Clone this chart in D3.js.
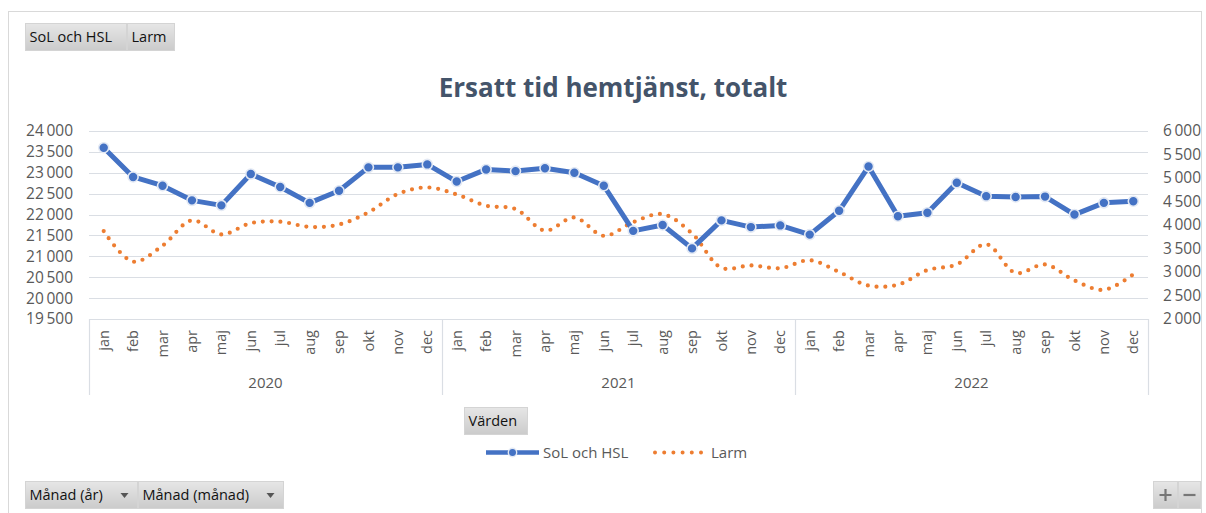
<!DOCTYPE html>
<html>
<head>
<meta charset="utf-8">
<script src="https://cdn.jsdelivr.net/npm/d3@7"></script>
<style>
  body { margin: 0; background: #fff; }
  svg text { font-family: "Open Sans", "Noto Sans", sans-serif; }
</style>
</head>
<body>
<svg id="chart" width="1206" height="513"></svg>
<script>
// ---- data ----
const years = ["2020", "2021", "2022"];
const months = ["jan", "feb", "mar", "apr", "maj", "jun", "jul", "aug", "sep", "okt", "nov", "dec"];

// SoL och HSL (left axis), jan 2020 .. dec 2022
const solHsl = [
  23600, 22900, 22690, 22340, 22220, 22970, 22660, 22280, 22570, 23130, 23130, 23200,
  22790, 23080, 23040, 23110, 23000, 22690, 21610, 21750, 21190, 21860, 21700, 21740,
  21520, 22090, 23150, 21960, 22045, 22760, 22440, 22420, 22430, 22000, 22280, 22320
];
// Larm (right axis), jan 2020 .. dec 2022
const larm = [
  3870, 3220, 3560, 4100, 3800, 4040, 4070, 3960, 4010, 4270, 4660, 4800,
  4650, 4410, 4340, 3880, 4160, 3770, 4060, 4230, 3820, 3090, 3140, 3080,
  3250, 3000, 2710, 2730, 3040, 3160, 3590, 2980, 3160, 2820, 2620, 2950
];

const leftTicks = [19500, 20000, 20500, 21000, 21500, 22000, 22500, 23000, 23500, 24000];
const rightTicks = [2000, 2500, 3000, 3500, 4000, 4500, 5000, 5500, 6000];

const seriesNames = ["SoL och HSL", "Larm"];
const title = "Ersatt tid hemtjänst, totalt";

// ---- layout ----
const svg = d3.select("#chart");
const plot = { left: 89, right: 1148, top: 131, bottom: 319 };
const blue = "#4472C4", orange = "#ED7D31";
const grid = "#dadee4", axisText = "#595959";

const keys = [];
years.forEach(y => months.forEach(m => keys.push(y + "-" + m)));
const points = keys.map((k, i) => ({ key: k, month: k.split("-")[1], sol: solHsl[i], larm: larm[i] }));

const x = d3.scaleBand().domain(keys).range([plot.left, plot.right]);
const yL = d3.scaleLinear().domain([19500, 24000]).range([plot.bottom, plot.top]);
const yR = d3.scaleLinear().domain([2000, 6000]).range([plot.bottom, plot.top]);

const sv = d3.formatLocale({ decimal: ",", thousands: "\u2009", grouping: [3], currency: ["", " kr"] });
const fmt = sv.format(",d");

// gradient used by the pivot field buttons
const defs = svg.append("defs");
const g1 = defs.append("linearGradient").attr("id", "btn").attr("x1", 0).attr("y1", 0).attr("x2", 0).attr("y2", 1);
g1.append("stop").attr("offset", "0%").attr("stop-color", "#e6e6e6");
g1.append("stop").attr("offset", "100%").attr("stop-color", "#cbcbcb");

// chart area frame
svg.append("rect").attr("x", 8.5).attr("y", 11.5).attr("width", 1193).attr("height", 520)
  .attr("fill", "#fff").attr("stroke", "#d9d9d9");

// field buttons
function button(x0, y0, w, h, label, arrow) {
  const g = svg.append("g").attr("transform", `translate(${x0},${y0})`);
  g.append("rect").attr("width", w).attr("height", h).attr("fill", "url(#btn)")
    .attr("stroke", "#d4d4d4").attr("stroke-width", 1);
  g.append("text").attr("x", 4).attr("y", h / 2).attr("dy", "0.35em")
    .attr("font-size", 14.5).attr("fill", "#111").text(label);
  if (arrow) {
    g.append("path").attr("d", `M${w - 17},${h / 2 - 2} l8,0 l-4,5 z`).attr("fill", "#555");
  }
  return g;
}
button(25.5, 23.5, 101, 27, seriesNames[0]);
button(127.5, 23.5, 47, 27, seriesNames[1]);
button(464.5, 407.5, 63, 27, "Värden");
button(25.5, 481.5, 112, 27, "Månad (år)", true);
button(138.5, 481.5, 145, 27, "Månad (månad)", true);
// zoom buttons
const zp = button(1153.5, 481.5, 24, 27, "");
zp.append("path").attr("d", "M6,13.5 h12 M12,7.5 v12").attr("stroke", "#777").attr("stroke-width", 2.2);
const zm = button(1178.5, 481.5, 22, 27, "");
zm.append("path").attr("d", "M5,13.5 h12").attr("stroke", "#777").attr("stroke-width", 2.2);

// title
svg.append("text").attr("x", 613).attr("y", 97).attr("text-anchor", "middle")
  .attr("font-size", 26).attr("font-weight", "bold").attr("fill", "#44546A").text(title);

// horizontal gridlines
svg.append("g").selectAll("line").data(leftTicks).join("line")
  .attr("x1", plot.left).attr("x2", plot.right)
  .attr("y1", d => Math.round(yL(d)) + 0.5).attr("y2", d => Math.round(yL(d)) + 0.5)
  .attr("stroke", grid).attr("stroke-width", 1.2);

// value axes
const axL = svg.append("g").attr("transform", `translate(${plot.left},0)`)
  .call(d3.axisLeft(yL).tickValues(leftTicks).tickFormat(fmt).tickSize(0).tickPadding(16));
const axR = svg.append("g").attr("transform", `translate(${plot.right},0)`)
  .call(d3.axisRight(yR).tickValues(rightTicks).tickFormat(fmt).tickSize(0).tickPadding(15));
[axL, axR].forEach(a => {
  a.select(".domain").remove();
  a.selectAll("text").attr("font-size", 15.5).attr("fill", axisText)
    .attr("font-family", '"Open Sans", sans-serif');
});

// category axis: year separators
const bounds = years.map((y, i) => x(y + "-jan")).concat([plot.right]);
svg.append("g").selectAll("line").data(bounds).join("line")
  .attr("x1", d => Math.round(d) + 0.5).attr("x2", d => Math.round(d) + 0.5)
  .attr("y1", plot.bottom).attr("y2", 395)
  .attr("stroke", grid).attr("stroke-width", 1.2);

// month labels (rotated)
svg.append("g").selectAll("text").data(points).join("text")
  .attr("transform", d => `translate(${x(d.key) + x.bandwidth() / 2},330) rotate(-90)`)
  .attr("text-anchor", "end").attr("dy", "0.35em")
  .attr("font-size", 14.5).attr("fill", axisText).text(d => d.month);

// year labels
svg.append("g").selectAll("text").data(years).join("text")
  .attr("x", (y, i) => (bounds[i] + bounds[i + 1]) / 2).attr("y", 383).attr("dy", "0.35em")
  .attr("text-anchor", "middle").attr("font-size", 15).attr("fill", axisText).text(d => d);

const cx = d => x(d.key) + x.bandwidth() / 2;

// Larm: smoothed dotted line
svg.append("path").datum(points)
  .attr("d", d3.line().x(cx).y(d => yR(d.larm)).curve(d3.curveCatmullRom.alpha(0.5)))
  .attr("fill", "none").attr("stroke", orange).attr("stroke-width", 4.2)
  .attr("stroke-linecap", "round").attr("stroke-dasharray", "0 8.8");

// SoL och HSL: solid line with markers
svg.append("path").datum(points)
  .attr("d", d3.line().x(cx).y(d => yL(d.sol)))
  .attr("fill", "none").attr("stroke", blue).attr("stroke-width", 5)
  .attr("stroke-linejoin", "round");
svg.append("g").selectAll("circle").data(points).join("circle")
  .attr("cx", cx).attr("cy", d => yL(d.sol)).attr("r", 5)
  .attr("fill", blue).attr("stroke", "#e3e9f4").attr("stroke-width", 1.6);

// legend
const lg = svg.append("g");
lg.append("line").attr("x1", 486).attr("x2", 539).attr("y1", 452.5).attr("y2", 452.5)
  .attr("stroke", blue).attr("stroke-width", 4.5);
lg.append("circle").attr("cx", 512.5).attr("cy", 452.5).attr("r", 4.2)
  .attr("fill", blue).attr("stroke", "#e3e9f4").attr("stroke-width", 1.4);
lg.append("text").attr("x", 543).attr("y", 452.5).attr("dy", "0.35em")
  .attr("font-size", 15).attr("fill", axisText).text(seriesNames[0]);
lg.append("line").attr("x1", 655).attr("x2", 706).attr("y1", 452.5).attr("y2", 452.5)
  .attr("stroke", orange).attr("stroke-width", 4).attr("stroke-linecap", "round")
  .attr("stroke-dasharray", "0 9.2");
lg.append("text").attr("x", 711).attr("y", 452.5).attr("dy", "0.35em")
  .attr("font-size", 15).attr("fill", axisText).text(seriesNames[1]);
</script>
</body>
</html>
